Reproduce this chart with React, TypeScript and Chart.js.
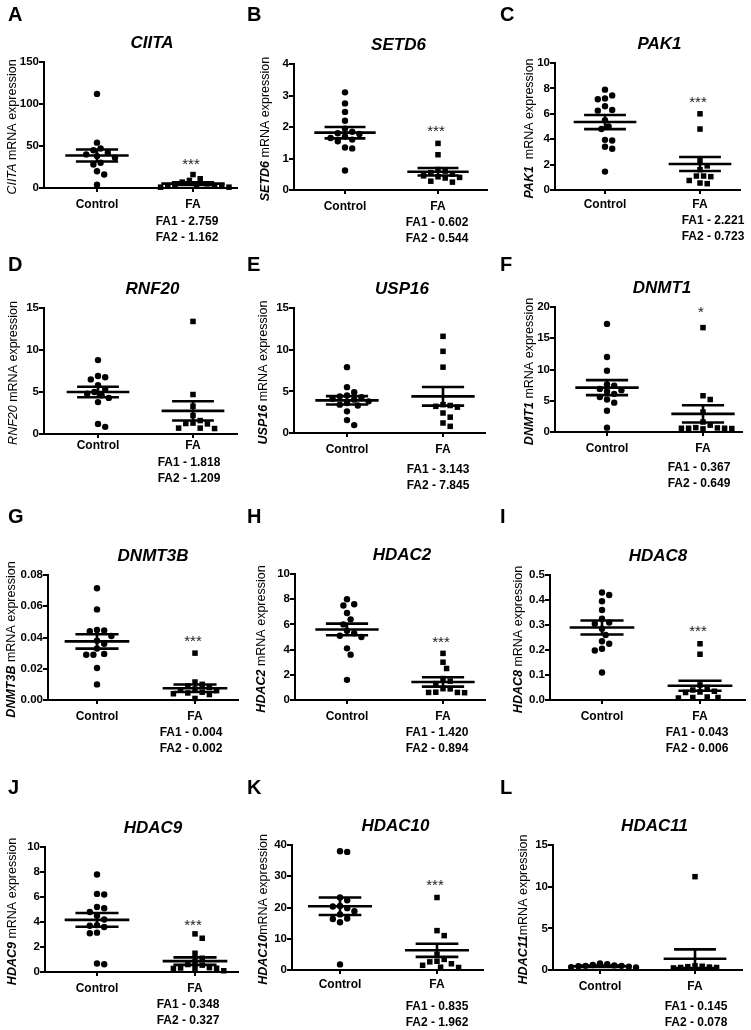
import React, { useEffect, useRef } from "react";
import { Chart, registerables } from "chart.js";

Chart.register(...registerables);

// ---------------- DATA ----------------
const groups = ["Control", "FA"];
const genes = ["CIITA", "SETD6", "PAK1", "RNF20", "USP16", "DNMT1", "DNMT3B", "HDAC2", "HDAC8", "HDAC9", "HDAC10", "HDAC11"];
const panelLetters = ["A", "B", "C", "D", "E", "F", "G", "H", "I", "J", "K", "L"];
const yMaxes = [150, 4, 10, 15, 15, 20, 0.08, 10, 0.5, 10, 40, 15];
const ySteps = [50, 1, 2, 5, 5, 5, 0.02, 2, 0.1, 2, 10, 5];
const tickDecimals = [0, 0, 0, 0, 0, 0, 2, 0, 1, 0, 0, 0];

const ciitaControl = [112, 54, 47, 45, 42, 40, 38, 36, 30, 28, 20, 16, 4];
const ciitaFA = [16, 11, 9, 7, 5, 4, 3, 3, 2, 2, 1, 1];
const setd6Control = [3.1, 2.75, 2.48, 2.2, 1.95, 1.85, 1.8, 1.78, 1.7, 1.65, 1.6, 1.55, 1.35, 1.32, 0.62];
const setd6FA = [1.48, 1.12, 0.65, 0.6, 0.55, 0.5, 0.45, 0.42, 0.4, 0.38, 0.28, 0.25];
const pak1Control = [7.9, 7.45, 7.2, 7.15, 6.6, 6.3, 6.25, 5.5, 5.0, 4.8, 3.95, 3.9, 3.4, 3.25, 1.45];
const pak1FA = [6.0, 4.8, 2.3, 1.9, 1.6, 1.1, 1.1, 1.05, 0.75, 0.55, 0.5];
const rnf20Control = [8.8, 6.9, 6.75, 6.5, 5.8, 5.3, 5.0, 4.8, 4.6, 4.3, 3.8, 1.2, 0.85];
const rnf20FA = [13.4, 4.7, 3.3, 2.2, 1.6, 1.3, 1.25, 1.2, 0.7, 0.7, 0.65];
const usp16Control = [7.9, 5.5, 4.9, 4.5, 4.4, 4.3, 4.1, 4.0, 3.8, 3.6, 3.4, 3.3, 2.6, 1.55, 0.95];
const usp16FA = [11.6, 9.8, 7.9, 3.4, 3.3, 3.2, 3.1, 2.4, 1.9, 1.2, 0.8];
const dnmt1Control = [17.3, 12.0, 9.8, 7.6, 7.4, 6.9, 6.7, 6.5, 6.1, 5.6, 5.2, 4.7, 3.4, 0.7];
const dnmt1FA = [16.7, 5.8, 5.2, 3.2, 1.6, 1.1, 0.7, 0.65, 0.6, 0.6, 0.6, 0.55, 0.5];
const dnmt3bControl = [0.0715, 0.058, 0.0448, 0.0445, 0.044, 0.041, 0.038, 0.036, 0.033, 0.0295, 0.029, 0.029, 0.0205, 0.01];
const dnmt3bFA = [0.03, 0.0115, 0.01, 0.009, 0.008, 0.007, 0.0065, 0.006, 0.005, 0.0045, 0.004, 0.0035, 0.001];
const hdac2Control = [8.0, 7.6, 7.5, 6.9, 6.4, 6.0, 5.5, 5.3, 5.1, 5.0, 4.1, 3.6, 1.6];
const hdac2FA = [3.7, 3.0, 2.5, 1.7, 1.5, 1.3, 0.9, 0.88, 0.62, 0.6, 0.6, 0.58];
const hdac8Control = [0.43, 0.42, 0.395, 0.36, 0.325, 0.31, 0.305, 0.285, 0.26, 0.235, 0.225, 0.205, 0.198, 0.11];
const hdac8FA = [0.225, 0.183, 0.06, 0.05, 0.04, 0.035, 0.032, 0.03, 0.012, 0.01, 0.01, 0.008];
const hdac9Control = [7.8, 6.25, 6.2, 5.2, 5.1, 4.8, 4.5, 4.2, 3.75, 3.7, 3.6, 3.15, 3.1, 0.68, 0.62];
const hdac9FA = [3.05, 2.7, 1.5, 1.1, 0.85, 0.6, 0.55, 0.35, 0.32, 0.3, 0.3, 0.28, 0.1];
const hdac10Control = [38, 37.8, 23.2, 22.3, 20.5, 20.3, 19.8, 18.8, 17.8, 16.5, 16.3, 15.3, 1.8];
const hdac10FA = [23.2, 12.6, 11.0, 5.0, 3.4, 2.8, 2.6, 2.0, 1.5, 0.9, 0.8];
const hdac11Control = [0.8, 0.7, 0.6, 0.55, 0.5, 0.5, 0.45, 0.4, 0.35, 0.3];
const hdac11FA = [11.2, 0.5, 0.45, 0.4, 0.35, 0.3, 0.3, 0.25];

const controlMeans = [38.7, 1.82, 5.35, 5.0, 3.92, 7.1, 0.0375, 5.6, 0.29, 4.17, 20.4, 0.45];
const controlSems = [7.2, 0.18, 0.56, 0.63, 0.5, 1.2, 0.0046, 0.46, 0.028, 0.55, 2.8, 0.07];
const faMeans = [5.2, 0.58, 2.05, 2.75, 4.4, 2.9, 0.0075, 1.43, 0.057, 0.87, 6.3, 1.35];
const faSems = [1.5, 0.12, 0.55, 1.15, 1.12, 1.37, 0.0024, 0.37, 0.02, 0.3, 2.1, 1.13];

const significance = ["***", "***", "***", "", "", "*", "***", "***", "***", "***", "***", ""];
const starLevels = [33, 1.97, 7.24, 0, 0, 19.8, 0.04, 4.9, 0.29, 4.05, 28.3, 0];
const fa1Values = ["2.759", "0.602", "2.221", "1.818", "3.143", "0.367", "0.004", "1.420", "0.043", "0.348", "0.835", "0.145"];
const fa2Values = ["1.162", "0.544", "0.723", "1.209", "7.845", "0.649", "0.002", "0.894", "0.006", "0.327", "1.962", "0.078"];

const controlSeries = [ciitaControl, setd6Control, pak1Control, rnf20Control, usp16Control, dnmt1Control, dnmt3bControl, hdac2Control, hdac8Control, hdac9Control, hdac10Control, hdac11Control];
const faSeries = [ciitaFA, setd6FA, pak1FA, rnf20FA, usp16FA, dnmt1FA, dnmt3bFA, hdac2FA, hdac8FA, hdac9FA, hdac10FA, hdac11FA];

// ---------------- LAYOUT ----------------
const SANS = '"Liberation Sans", Arial, Helvetica, sans-serif';
const YW = 40;
const XH = 30;
const DOT = 7.2;
const COLS = [0, 245, 497, 751];
const ROWS = [0, 250, 500, 760, 1030];

type Lay = {
  L: number; T: number; R: number; B: number; cx: number; fx: number;
  ytx: number; ftx: number; fty: number; lx: number; ly: number;
  xpad: number; geneBold: boolean; gap: string;
};

const LAYOUT: Lay[] = [
  { L: 44, T: 62, R: 237, B: 188, cx: 97, fx: 193, ytx: 13, ftx: 187, fty: 222, lx: 8, ly: 15, xpad: 5, geneBold: false, gap: " " },
  { L: 294, T: 64, R: 487, B: 190, cx: 345, fx: 438, ytx: 266, ftx: 437, fty: 223, lx: 247, ly: 15, xpad: 5, geneBold: true, gap: " " },
  { L: 555, T: 63, R: 740, B: 190, cx: 605, fx: 700, ytx: 530, ftx: 713, fty: 221, lx: 500, ly: 15, xpad: 3, geneBold: true, gap: "  " },
  { L: 44, T: 308, R: 237, B: 434, cx: 98, fx: 193, ytx: 14, ftx: 189, fty: 463, lx: 8, ly: 265, xpad: 0, geneBold: false, gap: " " },
  { L: 294, T: 308, R: 485, B: 433, cx: 347, fx: 443, ytx: 264, ftx: 438, fty: 470, lx: 247, ly: 265, xpad: 5, geneBold: true, gap: " " },
  { L: 555, T: 307, R: 742, B: 432, cx: 607, fx: 703, ytx: 530, ftx: 699, fty: 468, lx: 500, ly: 265, xpad: 5, geneBold: true, gap: " " },
  { L: 48, T: 575, R: 238, B: 700, cx: 97, fx: 195, ytx: 12, ftx: 191, fty: 733, lx: 8, ly: 517, xpad: 5, geneBold: true, gap: " " },
  { L: 295, T: 574, R: 485, B: 700, cx: 347, fx: 443, ytx: 262, ftx: 437, fty: 733, lx: 247, ly: 517, xpad: 5, geneBold: true, gap: " " },
  { L: 550, T: 575, R: 745, B: 700, cx: 602, fx: 700, ytx: 519, ftx: 697, fty: 733, lx: 500, ly: 517, xpad: 5, geneBold: true, gap: " " },
  { L: 45, T: 847, R: 238, B: 972, cx: 97, fx: 195, ytx: 13, ftx: 188, fty: 1005, lx: 8, ly: 788, xpad: 5, geneBold: true, gap: " " },
  { L: 292, T: 845, R: 483, B: 970, cx: 340, fx: 437, ytx: 264, ftx: 437, fty: 1007, lx: 247, ly: 788, xpad: 3, geneBold: true, gap: "" },
  { L: 553, T: 845, R: 742, B: 970, cx: 600, fx: 695, ytx: 524, ftx: 696, fty: 1007, lx: 500, ly: 788, xpad: 5, geneBold: true, gap: "" },
];

function cellOf(i: number) {
  const c = i % 3;
  const r = Math.floor(i / 3);
  return { x0: COLS[c], y0: ROWS[r], w: COLS[c + 1] - COLS[c], h: ROWS[r + 1] - ROWS[r] };
}

// beeswarm placement of points (pixel based, returns x in data units)
function swarm(values: number[], center: number, pxPerX: number, pxPerY: number, diam: number): number[] {
  const placed: { ox: number; py: number }[] = [];
  const order = values.map((_, k) => k).sort((a, b) => values[b] - values[a]);
  const out: number[] = new Array(values.length).fill(center);
  const step = diam / 2;
  for (const idx of order) {
    const py = values[idx] * pxPerY;
    let chosen = 0;
    for (let k = 0; k < 200; k++) {
      const mag = Math.ceil(k / 2) * step;
      const cand = k === 0 ? 0 : k % 2 === 1 ? mag : -mag;
      const ok = placed.every((p) => (p.ox - cand) ** 2 + (p.py - py) ** 2 >= diam * diam * 0.9);
      if (ok) { chosen = cand; break; }
    }
    placed.push({ ox: chosen, py });
    out[idx] = center + chosen / pxPerX;
  }
  return out;
}

function statSegments(x: number, m: number, s: number) {
  return [
    { x: x - 0.33, y: m }, { x: x + 0.33, y: m }, { x, y: null },
    { x: x - 0.22, y: m + s }, { x: x + 0.22, y: m + s }, { x, y: null },
    { x: x - 0.22, y: m - s }, { x: x + 0.22, y: m - s }, { x, y: null },
    { x, y: m - s }, { x, y: m + s },
  ];
}

function makeAnnotPlugin(i: number) {
  return {
    id: "annot" + i,
    afterDraw(chart: any) {
      const ctx = chart.ctx as CanvasRenderingContext2D;
      const lay = LAYOUT[i];
      const cell = cellOf(i);
      const xs = chart.scales.x;
      const ys = chart.scales.y;
      const area = chart.chartArea;
      ctx.save();
      ctx.translate(-cell.x0, -cell.y0);
      ctx.fillStyle = "#000";
      // panel letter
      ctx.font = `bold 20px ${SANS}`;
      ctx.textAlign = "left";
      ctx.textBaseline = "middle";
      ctx.fillText(panelLetters[i], lay.lx, lay.ly);
      // title
      const midX = (xs.getPixelForValue(1) + xs.getPixelForValue(2)) / 2 + cell.x0 + 7;
      ctx.font = `italic bold 17px ${SANS}`;
      ctx.textAlign = "center";
      ctx.fillText(genes[i], midX, area.top + cell.y0 - 19);
      // y axis title (mixed italic gene + regular text)
      ctx.save();
      ctx.translate(lay.ytx, (area.top + area.bottom) / 2 + cell.y0 + 2);
      ctx.rotate(-Math.PI / 2);
      const geneFont = `italic ${lay.geneBold ? "bold " : ""}12.5px ${SANS}`;
      const restFont = `12.5px ${SANS}`;
      const rest = lay.gap + "mRNA expression";
      ctx.font = geneFont;
      const w1 = ctx.measureText(genes[i]).width;
      ctx.font = restFont;
      const w2 = ctx.measureText(rest).width;
      const start = -(w1 + w2) / 2;
      ctx.textAlign = "left";
      ctx.textBaseline = "middle";
      ctx.font = geneFont;
      ctx.fillText(genes[i], start, 0);
      ctx.font = restFont;
      ctx.fillText(rest, start + w1, 0);
      ctx.restore();
      // significance stars
      if (significance[i]) {
        ctx.font = `15px ${SANS}`;
        ctx.fillStyle = "#222";
        ctx.textAlign = "center";
        ctx.textBaseline = "alphabetic";
        ctx.fillText(significance[i], xs.getPixelForValue(2) + cell.x0 - 2, ys.getPixelForValue(starLevels[i]) + cell.y0 + 8.5);
      }
      // FA1 / FA2 values
      ctx.fillStyle = "#000";
      ctx.font = `bold 12px ${SANS}`;
      ctx.textAlign = "center";
      ctx.textBaseline = "middle";
      ctx.fillText("FA1 - " + fa1Values[i], lay.ftx, lay.fty);
      ctx.fillText("FA2 - " + fa2Values[i], lay.ftx, lay.fty + 16);
      ctx.restore();
    },
  };
}

function buildConfig(i: number): any {
  const lay = LAYOUT[i];
  const cell = cellOf(i);
  const unit = lay.fx - lay.cx;
  const xMin = 1 - (lay.cx - lay.L) / unit;
  const xMax = 2 + (lay.R - lay.fx) / unit;
  const pxPerY = (lay.B - lay.T) / yMaxes[i];
  const ctrl = controlSeries[i];
  const fa = faSeries[i];
  const cX = swarm(ctrl, 1, unit, pxPerY, DOT);
  const fX = swarm(fa, 2, unit, pxPerY, DOT);
  const dec = tickDecimals[i];

  return {
    type: "scatter",
    data: {
      datasets: [
        {
          label: groups[0],
          data: ctrl.map((v, k) => ({ x: cX[k], y: v })),
          pointStyle: "circle",
          pointRadius: 3.2,
          backgroundColor: "#000",
          borderColor: "#000",
          borderWidth: 0,
          clip: false,
          order: 2,
        },
        {
          label: groups[1],
          data: fa.map((v, k) => ({ x: fX[k], y: v })),
          pointStyle: "rect",
          pointRadius: 3.9,
          backgroundColor: "#000",
          borderColor: "#000",
          borderWidth: 0,
          clip: false,
          order: 2,
        },
        {
          type: "line",
          label: "Control mean ± SEM",
          data: statSegments(1, controlMeans[i], controlSems[i]),
          borderColor: "#000",
          borderWidth: 2.6,
          pointRadius: 0,
          showLine: true,
          spanGaps: false,
          clip: false,
          order: 1,
        },
        {
          type: "line",
          label: "FA mean ± SEM",
          data: statSegments(2, faMeans[i], faSems[i]),
          borderColor: "#000",
          borderWidth: 2.6,
          pointRadius: 0,
          showLine: true,
          spanGaps: false,
          clip: false,
          order: 1,
        },
      ],
    },
    options: {
      animation: false,
      responsive: false,
      events: [],
      layout: {
        padding: {
          left: lay.L - cell.x0 - YW,
          top: lay.T - cell.y0,
          right: cell.x0 + cell.w - lay.R,
          bottom: cell.y0 + cell.h - lay.B - XH,
        },
      },
      plugins: {
        legend: { display: false },
        tooltip: { enabled: false },
        title: { display: false },
      },
      scales: {
        x: {
          type: "linear",
          min: xMin,
          max: xMax,
          afterBuildTicks: (s: any) => {
            s.ticks = [{ value: 1 }, { value: 2 }];
          },
          afterFit: (s: any) => {
            s.height = XH;
          },
          grid: { display: true, drawOnChartArea: false, drawTicks: true, tickLength: 4, lineWidth: 2, tickWidth: 2, tickColor: "#000", color: "#000" },
          border: { display: true, color: "#000", width: 2 },
          ticks: {
            autoSkip: false,
            maxRotation: 0,
            padding: lay.xpad,
            color: "#000",
            font: { family: SANS, size: 12, weight: "bold" },
            callback: (v: number) => (v === 1 ? groups[0] : v === 2 ? groups[1] : ""),
          },
        },
        y: {
          type: "linear",
          min: 0,
          max: yMaxes[i],
          afterFit: (s: any) => {
            s.width = YW;
          },
          grid: { display: true, drawOnChartArea: false, drawTicks: true, tickLength: 5, lineWidth: 2, tickWidth: 2, tickColor: "#000", color: "#000" },
          border: { display: true, color: "#000", width: 2 },
          ticks: {
            stepSize: ySteps[i],
            padding: 0,
            color: "#000",
            font: { family: SANS, size: 11.5, weight: "bold" },
            callback: (v: number) => Number(v).toFixed(dec),
          },
        },
      },
    },
    plugins: [makeAnnotPlugin(i)],
  };
}

export default function App() {
  const refs = useRef<(HTMLCanvasElement | null)[]>([]);
  useEffect(() => {
    const charts = refs.current.map((c, i) => (c ? new Chart(c, buildConfig(i)) : null));
    return () => {
      charts.forEach((ch) => ch && ch.destroy());
    };
  }, []);
  return (
    <div style={{ position: "absolute", left: 0, top: 0, width: 751, height: 1030, background: "#fff", overflow: "hidden" }}>
      {genes.map((g, i) => {
        const cell = cellOf(i);
        return (
          <canvas
            key={g}
            ref={(el) => {
              refs.current[i] = el;
            }}
            width={cell.w}
            height={cell.h}
            style={{ position: "absolute", left: cell.x0, top: cell.y0, width: cell.w, height: cell.h }}
          />
        );
      })}
    </div>
  );
}
